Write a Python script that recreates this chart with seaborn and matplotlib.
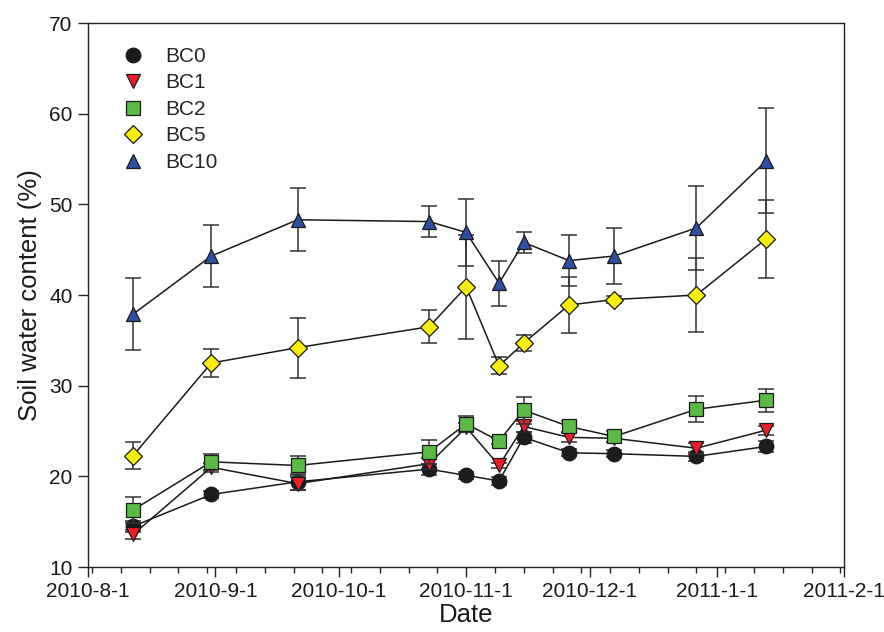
import matplotlib
matplotlib.use("Agg")
import matplotlib.pyplot as plt
import matplotlib.dates as mdates
from matplotlib.lines import Line2D
import numpy as np
import pandas as pd
import seaborn as sns

# Sampling dates
dates = ["2010-08-12", "2010-08-31", "2010-09-21", "2010-10-23", "2010-11-01",
         "2010-11-09", "2010-11-15", "2010-11-26", "2010-12-07", "2010-12-27",
         "2011-01-13"]

# Soil water content (%) means and standard errors per treatment
bc0 = [14.5, 18.0, 19.4, 20.8, 20.1, 19.5, 24.3, 22.6, 22.5, 22.2, 23.3]
bc0_err = [0.6, 0.4, 0.9, 0.6, 0.4, 0.4, 0.6, 0.4, 0.4, 0.5, 0.6]
bc1 = [13.6, 21.0, 19.2, 21.4, 25.4, 21.2, 25.5, 24.3, 24.2, 23.1, 25.1]
bc1_err = [0.5, 0.5, 0.7, 0.6, 0.5, 0.3, 0.6, 0.5, 0.4, 0.6, 0.5]
bc2 = [16.3, 21.6, 21.2, 22.7, 25.8, 23.9, 27.3, 25.5, 24.4, 27.4, 28.4]
bc2_err = [1.4, 0.85, 1.0, 1.3, 0.9, 0.3, 1.5, 0.6, 0.6, 1.45, 1.25]
bc5 = [22.3, 32.5, 34.2, 36.5, 40.9, 32.2, 34.7, 38.9, 39.5, 40.0, 46.2]
bc5_err = [1.45, 1.5, 3.3, 1.8, 5.7, 0.95, 0.9, 3.1, 0.4, 4.1, 4.3]
bc10 = [37.9, 44.3, 48.3, 48.1, 46.9, 41.3, 45.8, 43.8, 44.3, 47.4, 54.8]
bc10_err = [4.0, 3.4, 3.5, 1.7, 3.7, 2.5, 1.2, 2.8, 3.1, 4.6, 5.8]

labels = ["BC0", "BC1", "BC2", "BC5", "BC10"]
markers = ["o", "v", "s", "D", "^"]
colors = ["#1c1c1c", "#e8202a", "#5cb946", "#f7ec13", "#2f4f9f"]
sizes = [10.5, 10.5, 9.5, 9.5, 10.5]

x_ticks = ["2010-08-01", "2010-09-01", "2010-10-01", "2010-11-01",
           "2010-12-01", "2011-01-01", "2011-02-01"]
x_tick_labels = ["2010-8-1", "2010-9-1", "2010-10-1", "2010-11-1",
                 "2010-12-1", "2011-1-1", "2011-2-1"]
y_ticks = [10, 20, 30, 40, 50, 60, 70]

sns.set_style("ticks")
plt.rcParams["font.family"] = ["Liberation Sans", "DejaVu Sans"]

fig = plt.figure(figsize=(8.84, 6.32), dpi=100)
ax = fig.add_axes([0.0995, 0.1028, 0.8557, 0.8608])

x = pd.to_datetime(dates)
means = [bc0, bc1, bc2, bc5, bc10]
errs = [bc0_err, bc1_err, bc2_err, bc5_err, bc10_err]

handles = []
for i, (lab, m, c, ms, y, e) in enumerate(zip(labels, markers, colors, sizes, means, errs)):
    ax.errorbar(x, y, yerr=e, fmt="none", ecolor="#333333", elinewidth=1.1,
                capsize=5.8, capthick=1.1, zorder=2 + i)
    sns.lineplot(x=x, y=y, ax=ax, color="#1a1a1a", linewidth=1.1,
                 marker=m, markersize=ms, markerfacecolor=c,
                 markeredgecolor="#1a1a1a", markeredgewidth=0.9,
                 zorder=2.5 + i, legend=False)
    handles.append(Line2D([], [], linestyle="none", marker=m, markersize=ms,
                          markerfacecolor=c, markeredgecolor="#1a1a1a",
                          markeredgewidth=0.9, label=lab))

ax.set_xlim(pd.Timestamp("2010-08-01"), pd.Timestamp("2011-02-01"))
ax.set_ylim(10, 70)
ax.set_xticks(pd.to_datetime(x_ticks))
ax.set_xticklabels(x_tick_labels)
ax.xaxis.set_minor_locator(mdates.WeekdayLocator(byweekday=mdates.MO))
ax.set_yticks(y_ticks)

ax.tick_params(axis="both", which="major", direction="out", length=7, width=1.0,
               color="#222222", labelsize=15, labelcolor="#1a1a1a", pad=4)
ax.tick_params(axis="x", which="minor", direction="out", length=4, width=1.0,
               color="#222222")
for s in ax.spines.values():
    s.set_linewidth(1.0)
    s.set_color("#222222")
    s.set_visible(True)

ax.set_xlabel("Date", fontsize=18.5, color="#1a1a1a", labelpad=1)
ax.set_ylabel("Soil water content (%)", fontsize=18.5, color="#1a1a1a", labelpad=5)

ax.legend(handles=handles, loc="upper left", frameon=False, fontsize=15,
          bbox_to_anchor=(0.013, 0.983), handletextpad=0.55, labelspacing=0.36,
          borderaxespad=0.3)

fig.savefig("out.png", dpi=100)
